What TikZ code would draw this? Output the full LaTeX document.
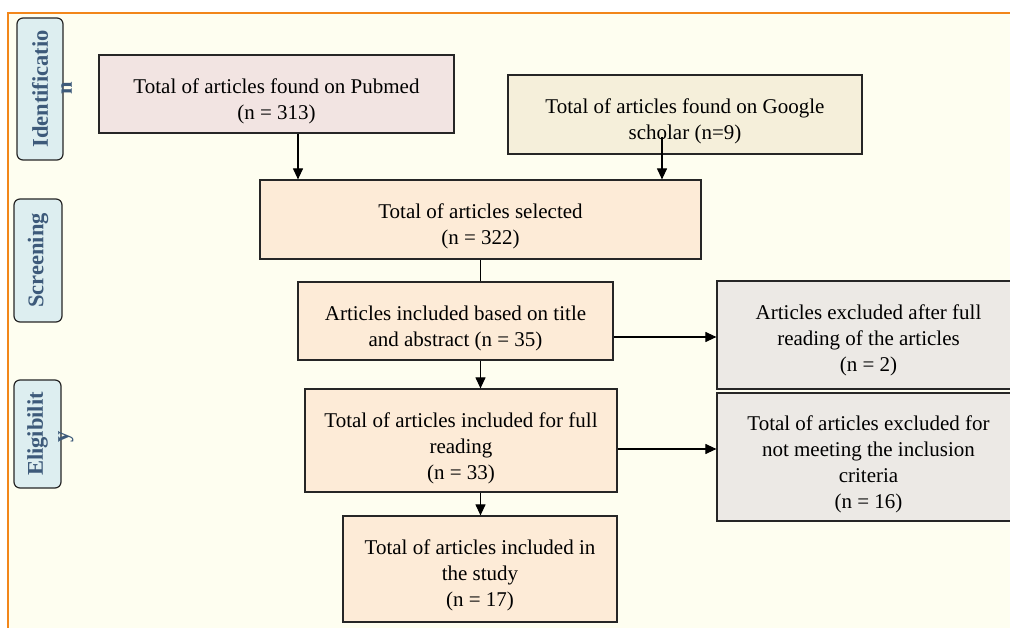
\documentclass[tikz,border=0pt]{standalone}
\usepackage{fontspec}
\setmainfont{Liberation Serif}
\usetikzlibrary{arrows.meta,calc}
\definecolor{cream}{HTML}{FEFEF0}
\definecolor{frameorange}{HTML}{F2861A}
\definecolor{pinkbox}{HTML}{F2E4E2}
\definecolor{beigebox}{HTML}{F5EFDA}
\definecolor{peachbox}{HTML}{FDEBD7}
\definecolor{graybox}{HTML}{ECE9E5}
\definecolor{sidefill}{HTML}{DDEEF0}
\definecolor{sidetext}{HTML}{3D5A7A}
\begin{document}
\begin{tikzpicture}[x=1pt,y=-1pt,
  flowbox/.style={draw=black!85, line width=1.2pt, inner sep=0pt},
  flowtext/.style={align=center, inner sep=0pt, font=\fontsize{21}{26}\selectfont},
  sidebox/.style={draw=black!85, line width=1.2pt, rounded corners=6pt, fill=sidefill,
    rotate=90, inner sep=0pt, text=sidetext, font=\fontsize{22.5}{26}\selectfont\bfseries},
  sidetail/.style={rotate=90, inner sep=0pt, text=sidetext, font=\fontsize{22.5}{26}\selectfont\bfseries},
  arr/.style={line width=1.1pt, -{Triangle[length=11pt,width=10pt]}},
  plain/.style={line width=1.1pt}]
\useasboundingbox (0,0) rectangle (1010,628);
\fill[white] (0,0) rectangle (1010,628);
\draw[frameorange, line width=2.4pt, fill=cream] (8,13) rectangle (1030,650);

% side labels
\node[sidebox, minimum width=142pt, minimum height=46pt] (ident) at (40,89) {Identificatio};
\node[sidetail] (identB) at (66.5,88) {n};
\node[sidebox, minimum width=123pt, minimum height=48pt] (screen) at (38,260.5) {Screening};
\node[sidebox, minimum width=108pt, minimum height=47pt] (elig) at (37.5,434) {Eligibilit};
\node[sidetail] (eligB) at (66,437) {y};

% boxes
\node[flowbox, fill=pinkbox, minimum width=355pt, minimum height=78pt] (pubmed) at (276.5,94) {};
\node[flowbox, fill=beigebox, minimum width=354pt, minimum height=79pt] (google) at (685,114.5) {};
\node[flowbox, fill=peachbox, minimum width=441pt, minimum height=79pt] (sel) at (480.5,219.5) {};
\node[flowbox, fill=peachbox, minimum width=315pt, minimum height=78pt] (title) at (455.5,321) {};
\node[flowbox, fill=peachbox, minimum width=312pt, minimum height=103pt] (full) at (461,440.5) {};
\node[flowbox, fill=peachbox, minimum width=274pt, minimum height=106pt] (study) at (480,569) {};
\node[flowbox, fill=graybox, minimum width=303pt, minimum height=108pt] (excla) at (868.5,335) {};
\node[flowbox, fill=graybox, minimum width=303pt, minimum height=128pt] (exclb) at (868.5,457) {};

% texts
\node[flowtext] (pubmedT) at ($(pubmed.center)+(0,7)$) {Total of articles found on Pubmed\\(n = 313)};
\node[flowtext] (googleT) at ($(google.center)+(0,6.5)$) {Total of articles found on Google\\scholar (n=9)};
\node[flowtext] (selT) at ($(sel.center)+(0,7)$) {Total of articles selected\\(n = 322)};
\node[flowtext] (titleT) at ($(title.center)+(0,7)$) {Articles included based on title\\and abstract (n = 35)};
\node[flowtext] (fullT) at ($(full.center)+(0,7.5)$) {Total of articles included for full\\reading\\(n = 33)};
\node[flowtext] (studyT) at ($(study.center)+(0,6.5)$) {Total of articles included in\\the study\\(n = 17)};
\node[flowtext] (exclaT) at ($(excla.center)+(0,5)$) {Articles excluded after full\\reading of the articles\\(n = 2)};
\node[flowtext] (exclbT) at ($(exclb.center)+(0,7.5)$) {Total of articles excluded for\\not meeting the inclusion\\criteria\\(n = 16)};

% connectors
\coordinate (cp) at (298,0);
\coordinate (cg) at (662,137);
\coordinate (ca) at (0,337);
\coordinate (cb) at (0,449);
\draw[arr] (pubmed.south -| cp) -- (sel.north -| cp);
\draw[arr] (cg) -- (sel.north -| cg);
\draw[plain] (sel.south) -- (title.north -| sel.south);
\draw[arr] (title.south -| sel.south) -- (full.north -| sel.south);
\draw[arr] (full.south -| sel.south) -- (study.north -| sel.south);
\draw[arr] (title.east |- ca) -- (excla.west |- ca);
\draw[arr] (full.east |- cb) -- (exclb.west |- cb);
\end{tikzpicture}
\end{document}
